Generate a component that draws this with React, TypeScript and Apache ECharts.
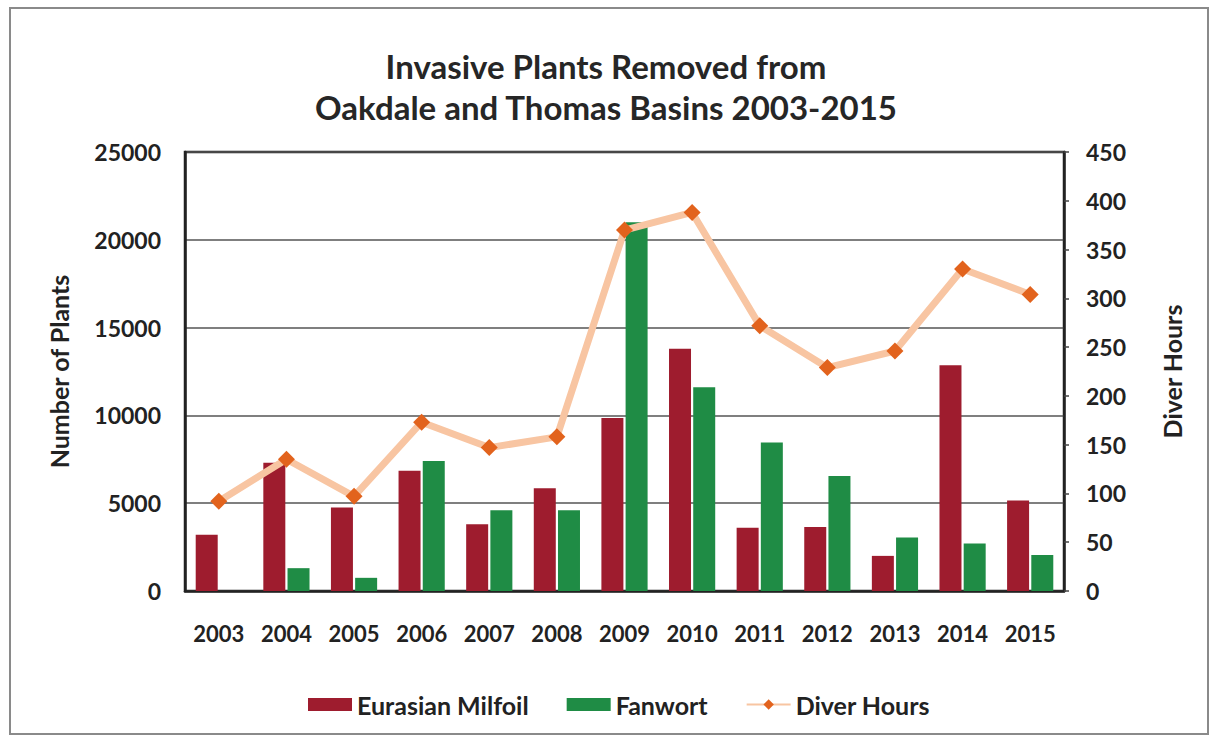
import React, { useEffect, useRef } from "react";
import * as echarts from "echarts";

const years = ["2003", "2004", "2005", "2006", "2007", "2008", "2009", "2010", "2011", "2012", "2013", "2014", "2015"];
const milfoil = [3200, 7300, 4750, 6850, 3800, 5850, 9850, 13800, 3600, 3650, 2000, 12850, 5150];
const fanwort = [0, 1300, 750, 7400, 4600, 4600, 21000, 11600, 8450, 6550, 3050, 2700, 2050];
const diverHours = [92, 135, 97, 173, 147, 158, 370, 388, 272, 229, 246, 330, 304];

const FONT = "Lato";

export default function App() {
  const ref = useRef<HTMLDivElement>(null);
  useEffect(() => {
    if (!ref.current) return;
    const chart = echarts.init(ref.current, null, { renderer: "svg" });
    chart.setOption({
      animation: false,
      backgroundColor: "#ffffff",
      textStyle: { fontFamily: FONT },
      title: {
        text: "Invasive Plants Removed from\nOakdale and Thomas Basins 2003-2015",
        left: "center",
        top: 40,
        textStyle: { fontFamily: FONT, fontWeight: "bold", fontSize: 33, lineHeight: 41, color: "#262626" },
      },
      graphic: [
        {
          type: "rect",
          shape: { x: 10, y: 8, width: 1198, height: 726 },
          style: { fill: "none", stroke: "#8a8a8a", lineWidth: 2 },
          silent: true,
        },
      ],
      legend: {
        left: 303,
        top: 687,
        itemWidth: 44,
        itemHeight: 13,
        itemGap: 38,
        textStyle: { fontFamily: FONT, fontWeight: "bold", fontSize: 25, color: "#222" },
        data: [
          { name: "Eurasian Milfoil", icon: "rect" },
          { name: "Fanwort", icon: "rect" },
          { name: "Diver Hours" },
        ],
      },
      grid: {
        left: 185,
        right: 148,
        top: 152,
        bottom: 147,
        show: true,
        borderColor: "#222",
        borderWidth: 2.5,
        containLabel: false,
      },
      xAxis: {
        type: "category",
        data: years,
        axisLine: { show: true, lineStyle: { color: "#222", width: 2.5 } },
        axisTick: { show: false },
        axisLabel: { interval: 0, margin: 31, fontFamily: FONT, fontWeight: "bold", fontSize: 22, color: "#222" },
      },
      yAxis: [
        {
          type: "value",
          min: 0,
          max: 25000,
          interval: 5000,
          name: "Number of Plants",
          nameLocation: "middle",
          nameGap: 114,
          nameRotate: 90,
          nameTextStyle: { fontFamily: FONT, fontWeight: "bold", fontSize: 25, color: "#222" },
          axisLine: { show: true, lineStyle: { color: "#222", width: 2.5 } },
          axisTick: { show: false },
          axisLabel: {
            margin: 24,
            fontFamily: FONT,
            fontWeight: "bold",
            fontSize: 23,
            color: "#222",
            formatter: (v: number) => String(v),
          },
          splitLine: { show: true, lineStyle: { color: "#555", width: 1.5 } },
        },
        {
          type: "value",
          min: 0,
          max: 450,
          interval: 50,
          name: "Diver Hours",
          nameLocation: "middle",
          nameGap: 95,
          nameRotate: 90,
          nameTextStyle: { fontFamily: FONT, fontWeight: "bold", fontSize: 25, color: "#222" },
          axisLine: { show: true, lineStyle: { color: "#222", width: 2.5 } },
          axisTick: { show: true, length: 5, lineStyle: { color: "#444", width: 1.5 } },
          axisLabel: {
            margin: 22,
            fontFamily: FONT,
            fontWeight: "bold",
            fontSize: 23,
            color: "#222",
            formatter: (v: number) => String(v),
          },
          splitLine: { show: false },
        },
      ],
      series: [
        {
          name: "Eurasian Milfoil",
          type: "bar",
          data: milfoil,
          barWidth: 22,
          barGap: "10%",
          itemStyle: { color: "#9E1C2E" },
        },
        {
          name: "Fanwort",
          type: "bar",
          data: fanwort,
          barWidth: 22,
          barGap: "10%",
          itemStyle: { color: "#1F8C45" },
        },
        {
          name: "Diver Hours",
          type: "line",
          yAxisIndex: 1,
          data: diverHours,
          symbol: "diamond",
          symbolSize: 17,
          lineStyle: { color: "#F8C5A2", width: 7 },
          itemStyle: { color: "#E2631D" },
          z: 5,
        },
      ],
    });
    return () => chart.dispose();
  }, []);
  return <div ref={ref} style={{ position: "fixed", left: 0, top: 0, width: 1212, height: 738 }} />;
}
